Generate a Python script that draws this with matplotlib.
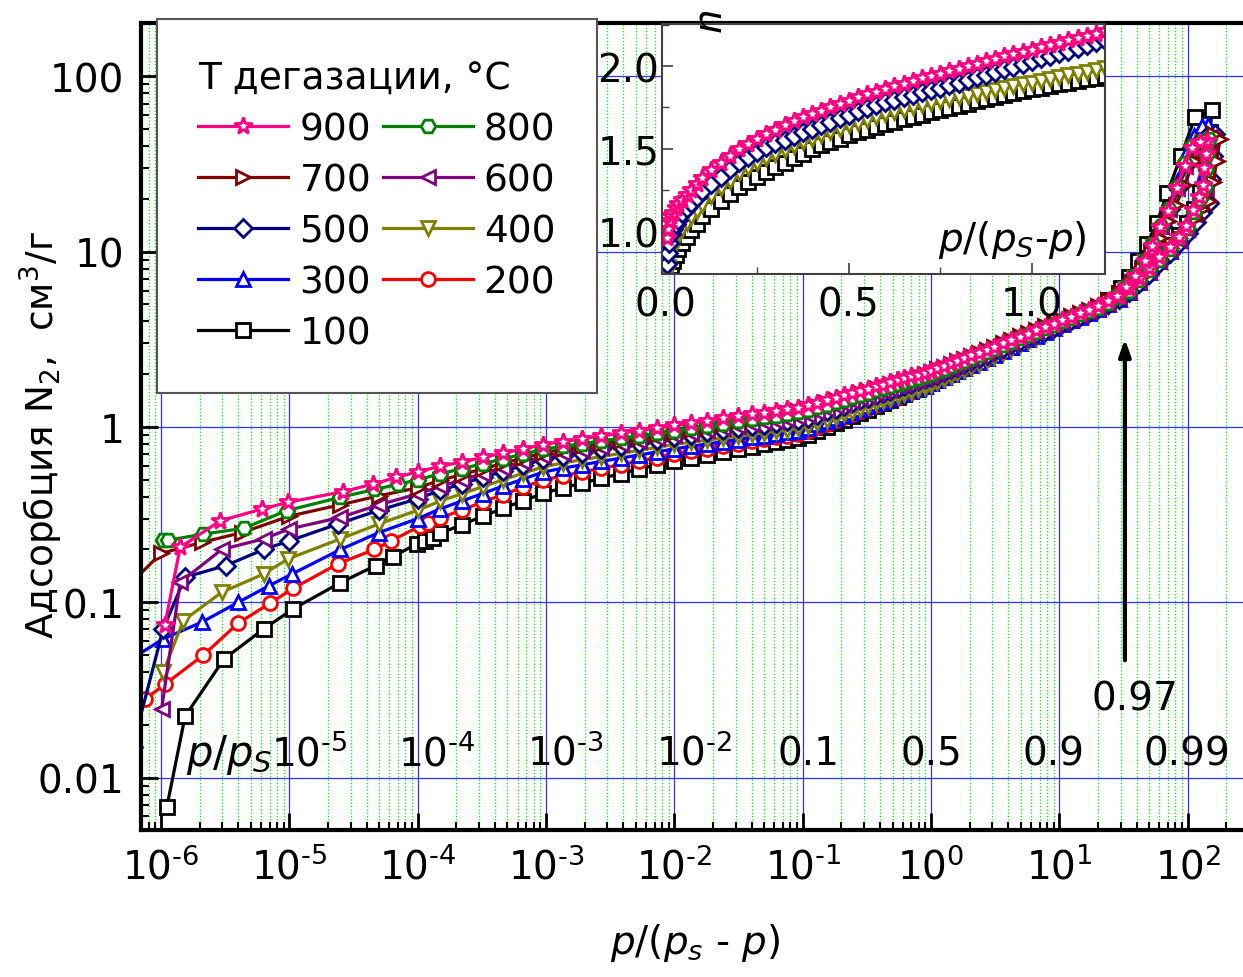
import numpy as np
import matplotlib.pyplot as plt
from matplotlib.ticker import LogLocator, FixedLocator, FixedFormatter, NullFormatter, MultipleLocator

plt.rcParams['font.family'] = ['DejaVu Sans']
plt.rcParams['mathtext.fontset'] = 'dejavusans'

# --- data: p/(ps-p) vs adsorption, cm3/g ---
# shared pressure points in the middle part of every isotherm
x_mid = [1.5e-4, 2.2e-4, 3.2e-4, 4.6e-4, 6.6e-4, 9.5e-4, 1.35e-3, 1.9e-3, 2.7e-3, 3.8e-3,
         5.3e-3, 7.3e-3, 0.01, 0.0135, 0.018, 0.024, 0.031, 0.04, 0.05, 0.062,
         0.076, 0.092, 0.11, 0.13, 0.155, 0.18, 0.21, 0.24, 0.28, 0.32,
         0.37, 0.42, 0.48, 0.55, 0.62, 0.7, 0.79, 0.89, 1.0, 1.12,
         1.26, 1.42, 1.6, 1.8, 2.05, 2.35, 2.7, 3.1, 3.6, 4.2,
         4.9, 5.7, 6.6, 7.7, 9.0, 10.5, 12.3, 14.5, 17, 20]

# 900 C
x900_low = [1.07e-6, 1.41e-6, 2.9e-6, 6.1e-6, 9.8e-6, 2.63e-5, 4.5e-5, 6.8e-5, 1.0e-4]
y900_low = [0.074, 0.206, 0.292, 0.34, 0.372, 0.428, 0.473, 0.515, 0.556]
y900_mid = [0.596, 0.632, 0.670, 0.710, 0.750, 0.794, 0.826, 0.857, 0.889, 0.922, 0.954, 0.987, 1.02,
            1.054, 1.086, 1.119, 1.150, 1.181, 1.209, 1.236, 1.263, 1.289,
            1.326, 1.373, 1.422, 1.468, 1.514, 1.556, 1.607, 1.652, 1.702, 1.746, 1.796, 1.847, 1.892,
            1.941, 1.991, 2.04, 2.09,
            2.158, 2.229, 2.305, 2.385, 2.465, 2.559, 2.659, 2.764, 2.874, 2.998, 3.131, 3.270, 3.413,
            3.557, 3.714, 3.882,
            4.056, 4.25, 4.46, 4.67, 4.9]
x900_loop = [24, 29, 35, 42, 50, 60, 72, 85, 97, 110, 122, 132, 134, 138, 142,
             125, 107, 95, 82, 70, 61, 53, 46, 39, 33, 28]
y900_loop = [5.2, 5.6, 6.2, 7.1, 8.1, 9.3, 10.7, 12.2, 14.0, 17.4, 20.5, 24.0, 30.0, 36.0, 43.0,
             42.5, 39.0, 31.0, 23.0, 17.0, 13.8, 10.8, 8.8, 7.3, 6.3, 5.6]

# 800 C
x800_low = [1.04e-6, 1.14e-6, 2.14e-6, 4.4e-6, 9.5e-6, 2.5e-5, 4.6e-5, 7e-5, 1.0e-4]
y800_low = [0.226, 0.226, 0.245, 0.264, 0.333, 0.397, 0.44, 0.47, 0.50]
y800_mid = [0.541, 0.578, 0.616, 0.658, 0.700, 0.746, 0.776, 0.803, 0.832, 0.861, 0.890, 0.919, 0.949,
            0.981, 1.013, 1.045, 1.075, 1.105, 1.133, 1.159, 1.186, 1.211,
            1.248, 1.293, 1.342, 1.387, 1.432, 1.475, 1.525, 1.569, 1.619, 1.662, 1.713, 1.764, 1.809,
            1.858, 1.907, 1.956, 2.006,
            2.074, 2.147, 2.224, 2.304, 2.386, 2.480, 2.582, 2.689, 2.802, 2.929, 3.065, 3.208, 3.355,
            3.504, 3.666, 3.839,
            4.011, 4.195, 4.393, 4.586, 4.802]
x800_loop = [24, 29, 35, 42, 50, 60, 72, 85, 98, 112, 125, 135, 138, 142, 146,
             128, 108, 95, 82, 71, 62, 54, 46, 39, 33, 28]
y800_loop = [5.1, 5.5, 6.0, 6.9, 7.9, 9.0, 10.4, 11.9, 13.7, 16.8, 20.0, 23.5, 29.5, 36.0, 44.0,
             43.0, 40.0, 32.0, 23.5, 17.5, 14.0, 11.0, 8.9, 7.3, 6.3, 5.6]

# 700 C
x700_low = [5e-7, 1.0e-6, 2.1e-6, 4.3e-6, 1.0e-5, 2.5e-5, 5e-5, 1.0e-4]
y700_low = [0.115, 0.19, 0.22, 0.25, 0.31, 0.36, 0.405, 0.45]
y700_mid = [0.497, 0.535, 0.576, 0.620, 0.665, 0.713, 0.744, 0.774, 0.804, 0.835, 0.865, 0.897, 0.928,
            0.966, 1.002, 1.040, 1.075, 1.110, 1.143, 1.174, 1.205, 1.235,
            1.274, 1.322, 1.373, 1.420, 1.468, 1.511, 1.564, 1.611, 1.663, 1.709, 1.760, 1.814, 1.861,
            1.912, 1.965, 2.016, 2.069,
            2.139, 2.211, 2.289, 2.371, 2.453, 2.549, 2.651, 2.761, 2.874, 3.001, 3.137, 3.283, 3.430,
            3.578, 3.744, 3.917,
            4.097, 4.280, 4.482, 4.679, 4.9]
x700_loop = [24, 29, 35, 42, 50, 60, 72, 86, 100, 115, 130, 145, 158, 168, 178,
             160, 135, 112, 94, 81, 70, 61, 52, 44, 37, 30]
y700_loop = [5.3, 5.7, 6.3, 7.1, 8.1, 9.2, 10.5, 11.9, 13.5, 15.5, 17.5, 19.5, 25.0, 33.0, 44.0,
             47.0, 42.0, 33.0, 24.0, 18.5, 15.0, 12.0, 9.8, 8.0, 6.7, 5.8]

# 600 C
x600_low = [1.01e-6, 1.41e-6, 2.97e-6, 6.3e-6, 1.0e-5, 2.5e-5, 5e-5, 1.0e-4]
y600_low = [0.0246, 0.13, 0.20, 0.23, 0.262, 0.305, 0.36, 0.415]
y600_mid = [0.458, 0.498, 0.540, 0.584, 0.630, 0.681, 0.713, 0.742, 0.772, 0.804, 0.834, 0.866, 0.898,
            0.928, 0.956, 0.985, 1.012, 1.039, 1.064, 1.088, 1.111, 1.134,
            1.170, 1.218, 1.267, 1.314, 1.361, 1.405, 1.458, 1.503, 1.556, 1.601, 1.654, 1.707, 1.756,
            1.807, 1.860, 1.911, 1.965,
            2.033, 2.104, 2.181, 2.261, 2.342, 2.436, 2.539, 2.645, 2.759, 2.884, 3.021, 3.165, 3.311,
            3.461, 3.621, 3.797,
            3.975, 4.165, 4.371, 4.577, 4.802]
x600_loop = [24, 29, 35, 42, 50, 60, 72, 85, 98, 112, 126, 138, 142, 146, 150,
             130, 110, 95, 82, 71, 62, 54, 46, 39, 33, 28]
y600_loop = [5.1, 5.5, 6.0, 6.8, 7.8, 8.9, 10.2, 11.7, 13.5, 16.5, 19.5, 23.0, 29.0, 36.0, 45.0,
             44.0, 40.0, 31.0, 23.0, 17.5, 14.0, 11.0, 9.0, 7.4, 6.3, 5.6]

# 500 C
x500_low = [6e-7, 1.04e-6, 1.54e-6, 3.2e-6, 6.3e-6, 1.0e-5, 2.4e-5, 5e-5, 1.0e-4]
y500_low = [0.015, 0.0704, 0.139, 0.162, 0.20, 0.224, 0.28, 0.335, 0.39]
y500_mid = [0.435, 0.473, 0.515, 0.558, 0.603, 0.653, 0.685, 0.715, 0.747, 0.779, 0.811, 0.844, 0.877,
            0.905, 0.931, 0.958, 0.983, 1.009, 1.031, 1.053, 1.075, 1.096,
            1.131, 1.178, 1.227, 1.274, 1.322, 1.365, 1.416, 1.462, 1.515, 1.561, 1.613, 1.666, 1.712,
            1.764, 1.818, 1.869, 1.923,
            1.990, 2.060, 2.134, 2.213, 2.292, 2.385, 2.486, 2.590, 2.702, 2.824, 2.959, 3.100, 3.242,
            3.390, 3.547, 3.719,
            3.898, 4.093, 4.304, 4.521, 4.753]
x500_loop = [24, 29, 35, 42, 50, 60, 72, 86, 100, 115, 130, 145, 152, 158, 162,
             140, 118, 100, 85, 73, 63, 54, 46, 39, 33, 28]
y500_loop = [5.0, 5.4, 5.9, 6.6, 7.5, 8.6, 9.8, 11.2, 12.8, 14.8, 16.8, 19.0, 26.0, 35.0, 47.0,
             46.0, 41.0, 32.0, 23.5, 17.5, 14.0, 11.0, 9.0, 7.4, 6.3, 5.6]

# 400 C
x400_low = [1.04e-6, 1.49e-6, 2.97e-6, 6.3e-6, 9.8e-6, 2.5e-5, 5e-5, 1.0e-4]
y400_low = [0.040, 0.0785, 0.114, 0.145, 0.177, 0.23, 0.28, 0.335]
y400_mid = [0.378, 0.416, 0.456, 0.499, 0.544, 0.593, 0.623, 0.650, 0.678, 0.707, 0.736, 0.766, 0.796,
            0.819, 0.842, 0.864, 0.886, 0.907, 0.926, 0.944, 0.962, 0.981,
            1.012, 1.054, 1.099, 1.142, 1.185, 1.225, 1.271, 1.313, 1.362, 1.404, 1.451, 1.500, 1.542,
            1.590, 1.639, 1.685, 1.735,
            1.802, 1.872, 1.945, 2.025, 2.105, 2.201, 2.300, 2.407, 2.520, 2.647, 2.783, 2.930, 3.079,
            3.230, 3.395, 3.575,
            3.760, 3.965, 4.183, 4.408, 4.655]
x400_loop = [24, 29, 35, 42, 50, 60, 72, 85, 98, 112, 126, 138, 142, 146, 150,
             130, 110, 95, 82, 71, 62, 54, 46, 39, 33, 28]
y400_loop = [4.9, 5.3, 5.8, 6.6, 7.6, 8.7, 10.0, 11.5, 13.2, 16.0, 19.0, 22.5, 28.5, 35.0, 43.0,
             42.0, 38.0, 30.0, 22.0, 16.5, 13.3, 10.6, 8.7, 7.1, 6.1, 5.4]

# 300 C
x300_low = [6e-7, 1.04e-6, 2.07e-6, 4.0e-6, 6.9e-6, 1.05e-5, 2.5e-5, 5e-5, 1.0e-4]
y300_low = [0.048, 0.0618, 0.0769, 0.10, 0.124, 0.145, 0.20, 0.25, 0.30]
y300_mid = [0.341, 0.378, 0.417, 0.460, 0.504, 0.553, 0.582, 0.608, 0.636, 0.664, 0.692, 0.721, 0.750,
            0.777, 0.799, 0.825, 0.848, 0.872, 0.892, 0.913, 0.933, 0.954,
            0.988, 1.034, 1.082, 1.127, 1.173, 1.217, 1.268, 1.315, 1.365, 1.413, 1.464, 1.516, 1.565,
            1.617, 1.670, 1.722, 1.777,
            1.845, 1.917, 1.994, 2.075, 2.159, 2.254, 2.359, 2.468, 2.584, 2.716, 2.855, 3.005, 3.160,
            3.315, 3.487, 3.669,
            3.857, 4.050, 4.259, 4.474, 4.704]
x300_loop = [24, 29, 35, 42, 50, 60, 72, 85, 98, 112, 125, 135, 140, 143,
             128, 112, 96, 82, 71, 62, 53, 46, 39, 33, 28]
y300_loop = [5.0, 5.4, 5.9, 6.7, 7.7, 8.8, 10.1, 11.6, 13.4, 16.3, 20.0, 28.0, 40.0, 53.0,
             52.0, 46.0, 36.0, 25.0, 18.0, 14.0, 11.0, 9.0, 7.4, 6.3, 5.6]

# 200 C
x200_low = [7.5e-7, 1.07e-6, 2.14e-6, 4.0e-6, 7.1e-6, 1.07e-5, 2.4e-5, 4.6e-5, 6.2e-5, 1.04e-4, 1.2e-4]
y200_low = [0.028, 0.034, 0.050, 0.076, 0.099, 0.12, 0.166, 0.20, 0.224, 0.272, 0.285]
y200_mid = [0.302, 0.336, 0.373, 0.411, 0.452, 0.498, 0.526, 0.554, 0.581, 0.610, 0.640, 0.669, 0.700,
            0.726, 0.752, 0.778, 0.803, 0.827, 0.850, 0.871, 0.893, 0.914,
            0.948, 0.995, 1.045, 1.091, 1.139, 1.181, 1.234, 1.282, 1.334, 1.381, 1.435, 1.489, 1.538,
            1.592, 1.647, 1.699, 1.756,
            1.824, 1.897, 1.975, 2.056, 2.140, 2.237, 2.343, 2.452, 2.569, 2.701, 2.846, 2.995, 3.150,
            3.308, 3.480, 3.668,
            3.853, 4.038, 4.259, 4.460, 4.704]
x200_loop = [24, 29, 35, 42, 50, 60, 72, 85, 98, 112, 125, 135, 140, 144,
             128, 110, 95, 82, 71, 62, 54, 46, 39, 33, 28]
y200_loop = [5.0, 5.4, 5.9, 6.7, 7.7, 8.8, 10.1, 11.6, 13.4, 16.3, 20.0, 26.0, 35.0, 46.0,
             45.0, 40.0, 32.0, 23.5, 17.5, 14.0, 11.0, 9.0, 7.4, 6.3, 5.6]

# 100 C
x100_low = [1.11e-6, 1.54e-6, 3.1e-6, 6.3e-6, 1.07e-5, 2.48e-5, 4.7e-5, 6.4e-5, 9.8e-5, 1.14e-4, 1.32e-4]
y100_low = [0.0068, 0.0224, 0.0475, 0.0704, 0.0916, 0.129, 0.162, 0.182, 0.215, 0.225, 0.233]
y100_mid = [0.247, 0.277, 0.309, 0.343, 0.379, 0.418, 0.449, 0.478, 0.509, 0.542, 0.575, 0.608, 0.643,
            0.669, 0.695, 0.722, 0.747, 0.772, 0.796, 0.818, 0.840, 0.862,
            0.898, 0.948, 1.001, 1.051, 1.102, 1.149, 1.205, 1.257, 1.314, 1.365, 1.424, 1.483, 1.538,
            1.596, 1.657, 1.716, 1.777,
            1.845, 1.919, 1.998, 2.080, 2.164, 2.262, 2.369, 2.479, 2.598, 2.731, 2.877, 3.028, 3.184,
            3.344, 3.517, 3.707,
            3.898, 4.093, 4.304, 4.521, 4.753]
x100_loop = [24, 29, 35, 42, 50, 60, 72, 85, 98, 112, 125, 138, 148, 155,
             114, 88, 69, 57, 48, 41, 35, 30]
y100_loop = [5.3, 5.8, 6.4, 7.3, 8.3, 9.5, 10.9, 12.5, 14.5, 17.5, 22.0, 32.0, 48.0, 64.0,
             58.5, 35.0, 21.5, 14.5, 11.0, 8.9, 7.2, 6.2]

# inset: n vs p/(ps-p), linear axes
ins_x = [0.003, 0.006, 0.01, 0.015, 0.02, 0.027, 0.035, 0.045, 0.057, 0.07, 0.085, 0.1,
         0.125, 0.15, 0.175, 0.2, 0.225, 0.25, 0.275, 0.3, 0.325, 0.35, 0.375, 0.4,
         0.425, 0.45, 0.475, 0.5, 0.525, 0.55, 0.575, 0.6, 0.625, 0.65, 0.675, 0.7,
         0.725, 0.75, 0.775, 0.8, 0.825, 0.85, 0.875, 0.9, 0.925, 0.95, 0.975, 1.0,
         1.025, 1.05, 1.075, 1.1, 1.125, 1.15, 1.175, 1.2]
ins_900 = [0.96, 1.01, 1.06, 1.09, 1.11, 1.14, 1.165, 1.19, 1.22, 1.25, 1.285, 1.32,
           1.37, 1.41, 1.455, 1.50, 1.53, 1.56, 1.59, 1.615, 1.64, 1.665, 1.69, 1.71,
           1.73, 1.75, 1.77, 1.79, 1.81, 1.83, 1.845, 1.86, 1.877, 1.893, 1.91, 1.925,
           1.94, 1.955, 1.97, 1.985, 2.0, 2.015, 2.03, 2.045, 2.06, 2.073, 2.086, 2.10,
           2.114, 2.128, 2.142, 2.156, 2.17, 2.184, 2.197, 2.21]
ins_500 = [0.80, 0.87, 0.93, 0.98, 1.01, 1.04, 1.07, 1.11, 1.14, 1.17, 1.205, 1.24,
           1.285, 1.33, 1.375, 1.42, 1.45, 1.48, 1.51, 1.535, 1.555, 1.578, 1.60, 1.62,
           1.642, 1.664, 1.685, 1.705, 1.725, 1.743, 1.762, 1.78, 1.795, 1.81, 1.825, 1.84,
           1.855, 1.87, 1.885, 1.90, 1.916, 1.932, 1.948, 1.964, 1.98, 1.996, 2.013, 2.03,
           2.046, 2.062, 2.078, 2.094, 2.11, 2.127, 2.143, 2.16]
ins_400 = [0.74, 0.78, 0.83, 0.87, 0.91, 0.945, 0.975, 1.01, 1.05, 1.085, 1.12, 1.16,
           1.21, 1.26, 1.305, 1.35, 1.38, 1.41, 1.44, 1.465, 1.49, 1.515, 1.538, 1.56,
           1.58, 1.60, 1.62, 1.64, 1.658, 1.675, 1.693, 1.71, 1.723, 1.736, 1.749, 1.762,
           1.774, 1.786, 1.798, 1.81, 1.821, 1.833, 1.844, 1.855, 1.866, 1.878, 1.889, 1.90,
           1.911, 1.922, 1.933, 1.944, 1.955, 1.966, 1.978, 1.99]
ins_100 = [0.70, 0.73, 0.76, 0.79, 0.82, 0.855, 0.89, 0.925, 0.965, 1.005, 1.045, 1.09,
           1.135, 1.18, 1.225, 1.27, 1.30, 1.33, 1.36, 1.39, 1.415, 1.44, 1.47, 1.50,
           1.52, 1.54, 1.56, 1.58, 1.598, 1.615, 1.633, 1.65, 1.664, 1.678, 1.692, 1.706,
           1.72, 1.733, 1.747, 1.76, 1.773, 1.786, 1.798, 1.81, 1.823, 1.835, 1.848, 1.86,
           1.87, 1.88, 1.89, 1.90, 1.91, 1.92, 1.93, 1.94]

# p/ps marks written inside the plot
pps_values = [1e-5, 1e-4, 1e-3, 1e-2, 0.1, 0.5, 0.9, 0.99]
pps_labels = ['$10^{\u2010 5}$', '$10^{\u2010 4}$', '$10^{\u2010 3}$', '$10^{\u2010 2}$',
              '0.1', '0.5', '0.9', '0.99']
p_arrow = 0.97

x_decades = [-6, -5, -4, -3, -2, -1, 0, 1, 2]

temps = [100, 200, 300, 400, 500, 600, 700, 800, 900]
colors = {900: '#ff0080', 800: '#008000', 700: '#800000', 600: '#800080', 500: '#000080',
          400: '#808000', 300: '#0000ff', 200: '#ff0000', 100: '#000000'}
markers = {900: '*', 800: 'H', 700: '>', 600: '<', 500: 'D', 400: 'v', 300: '^', 200: 'o', 100: 's'}
msize = {900: 13, 800: 10.5, 700: 10.5, 600: 10.5, 500: 9.5, 400: 10.5, 300: 10.5, 200: 10, 100: 9.5}

series = {
    900: (x900_low + x_mid + x900_loop, y900_low + y900_mid + y900_loop),
    800: (x800_low + x_mid + x800_loop, y800_low + y800_mid + y800_loop),
    700: (x700_low + x_mid + x700_loop, y700_low + y700_mid + y700_loop),
    600: (x600_low + x_mid + x600_loop, y600_low + y600_mid + y600_loop),
    500: (x500_low + x_mid + x500_loop, y500_low + y500_mid + y500_loop),
    400: (x400_low + x_mid + x400_loop, y400_low + y400_mid + y400_loop),
    300: (x300_low + x_mid + x300_loop, y300_low + y300_mid + y300_loop),
    200: (x200_low + x_mid + x200_loop, y200_low + y200_mid + y200_loop),
    100: (x100_low + x_mid + x100_loop, y100_low + y100_mid + y100_loop),
}

W, H = 1243, 978
fig = plt.figure(figsize=(W / 100, H / 100), dpi=100)
ax = fig.add_axes([141 / W, 1 - 831 / H, (W - 141) / W, (831 - 24) / H])

lines = {}
for t in temps:
    xs, ys = series[t]
    ln, = ax.plot(xs, ys, color=colors[t], marker=markers[t], ms=msize[t], mfc='white',
                  mec=colors[t], mew=2.0, lw=2.3, label=str(t))
    lines[t] = ln

ax.set_xscale('log')
ax.set_yscale('log')
ax.set_xlim(6.98e-7, 269)
ax.set_ylim(0.00502, 201.7)

ax.xaxis.set_major_locator(FixedLocator([10.0 ** d for d in x_decades]))
ax.xaxis.set_major_formatter(FixedFormatter(
    ['$10^{%s}$' % str(d).replace('-', '\u2010') for d in x_decades]))
ax.xaxis.set_minor_locator(LogLocator(base=10, subs=np.arange(2, 10), numticks=100))
ax.xaxis.set_minor_formatter(NullFormatter())
ax.yaxis.set_major_locator(FixedLocator([0.01, 0.1, 1, 10, 100]))
ax.yaxis.set_major_formatter(FixedFormatter(['0.01', '0.1', '1', '10', '100']))
ax.yaxis.set_minor_locator(LogLocator(base=10, subs=np.arange(2, 10), numticks=100))
ax.yaxis.set_minor_formatter(NullFormatter())

ax.grid(True, which='major', color='#3030ff', lw=0.9)
ax.grid(True, which='minor', axis='x', color='#00ee00', lw=0.9, ls=':')
ax.set_axisbelow(True)

ax.tick_params(which='major', direction='in', length=12, width=2, labelsize=28)
ax.tick_params(axis='y', which='major', pad=12)
ax.tick_params(axis='x', which='major', pad=12)
ax.tick_params(which='minor', direction='in', length=6, width=1.5)
for s in ['left', 'bottom', 'top']:
    ax.spines[s].set_linewidth(3)
ax.spines['right'].set_visible(False)

ax.set_ylabel('Адсорбция N$_2$,  см$^3$/г', fontsize=27)
ax.yaxis.set_label_coords(-0.069, 0.49)
ax.set_xlabel('$p/(p_s$ - $p)$', fontsize=28)
ax.xaxis.set_label_coords(0.503, -0.113)

# p/ps scale written along the lower part of the plot
ax.text(3.4e-6, 0.0118, '$p/p_S$', fontsize=30, ha='center', va='baseline')
for p, lbl in zip(pps_values, pps_labels):
    dx = 14 if lbl.startswith('$') else 0
    ax.annotate(lbl, xy=(p / (1 - p), 0.0119), xytext=(dx, 0), textcoords='offset points',
                fontsize=28, ha='center', va='baseline')

xa = p_arrow / (1 - p_arrow)
ax.annotate('', xy=(xa, 3.3), xytext=(xa, 0.045),
            arrowprops=dict(arrowstyle='-|>,head_length=1.0,head_width=0.35', lw=3, color='black'))
ax.text(xa * 1.2, 0.0245, '0.97', fontsize=28, ha='center', va='baseline')

# legend, filled row by row
order = [900, 700, 500, 300, 100, 800, 600, 400, 200]
leg = fig.legend([lines[t] for t in order], [str(t) for t in order], ncol=2,
                 loc='upper left', bbox_to_anchor=(157 / W, 1 - 20 / H),
                 bbox_transform=fig.transFigure, borderaxespad=0,
                 fontsize=27, title='Т дегазации, °С', title_fontsize=27,
                 alignment='left', fancybox=False, edgecolor='#555555', framealpha=1,
                 handlelength=2.4, handletextpad=0.3, columnspacing=0.3,
                 labelspacing=0.4, borderpad=1.1)
leg.get_frame().set_linewidth(1.5)

# inset
axi = fig.add_axes([662 / W, 1 - 275 / H, (1105 - 662) / W, 250 / H])
for t, ys in [(100, ins_100), (400, ins_400), (500, ins_500), (900, ins_900)]:
    axi.plot(ins_x, ys, color=colors[t], marker=markers[t], ms=msize[t], mfc='white',
             mec=colors[t], mew=2.0, lw=2.0)
axi.set_xlim(-0.01, 1.2)
axi.set_ylim(0.74, 2.255)
axi.xaxis.set_major_locator(MultipleLocator(0.5))
axi.xaxis.set_minor_locator(MultipleLocator(0.25))
axi.yaxis.set_major_locator(MultipleLocator(0.5))
axi.yaxis.set_minor_locator(MultipleLocator(0.25))
axi.xaxis.set_major_formatter(plt.FormatStrFormatter('%.1f'))
axi.yaxis.set_major_formatter(plt.FormatStrFormatter('%.1f'))
axi.tick_params(which='major', direction='in', length=8, width=1.2, labelsize=28, color='#404040')
axi.tick_params(which='minor', direction='in', length=5, width=1, color='#404040')
axi.tick_params(axis='y', pad=2)
axi.tick_params(axis='x', pad=8)
for s in axi.spines.values():
    s.set_color('#404040')
    s.set_linewidth(1.5)
axi.text(0.79, 0.14, '$p/(p_S$-$p)$', fontsize=28, ha='center', va='center',
         transform=axi.transAxes)
fig.text(711 / W, 1 - 22 / H, '$n$', fontsize=28, rotation=90, ha='center', va='center')

fig.savefig('out.png', dpi=100)
